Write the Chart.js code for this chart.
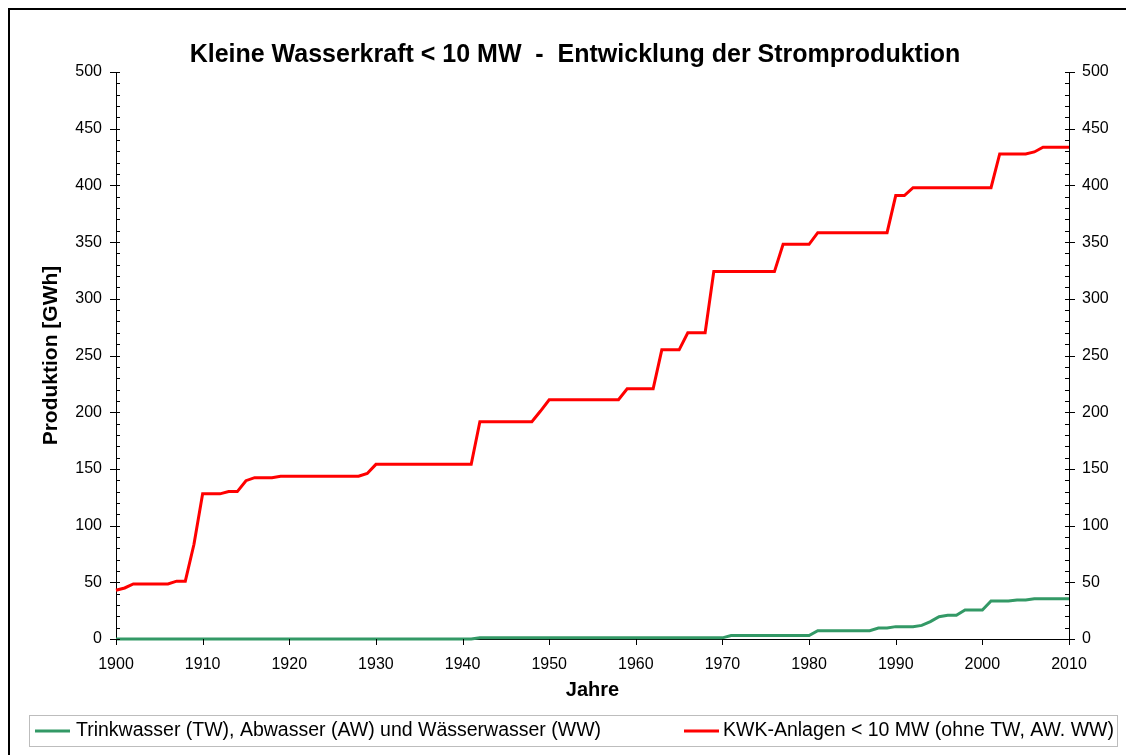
<!DOCTYPE html>
<html>
<head>
<meta charset="utf-8">
<script src="https://cdn.jsdelivr.net/npm/chart.js@4.4.1/dist/chart.umd.min.js"></script>
<style>
html,body{margin:0;padding:0;background:#fff;}
#wrap{width:1126px;height:755px;position:relative;}
</style>
</head>
<body>
<div id="wrap"><canvas id="c" width="1126" height="755"></canvas></div>
<script>
// ---- text ----
const chartTitle = 'Kleine Wasserkraft < 10 MW  -  Entwicklung der Stromproduktion';
const xAxisTitle = 'Jahre';
const yAxisTitle = 'Produktion [GWh]';
const seriesNames = [
  'Trinkwasser (TW), Abwasser (AW) und Wässerwasser (WW)',
  'KWK-Anlagen < 10 MW (ohne TW, AW. WW)'
];

// ---- data ----
const greenYears  = [1900, 1941, 1942, 1970, 1971, 1980, 1981, 1987, 1988, 1989, 1990, 1992, 1993, 1994, 1995, 1996, 1997, 1998, 2000, 2001, 2003, 2004, 2005, 2006, 2010];
const greenValues = [0,    0,    1,    1,    3,    3,    7.3,  7.3,  9.7,  9.7,  10.9, 10.9, 12,   15.3, 19.7, 21,   21,   25.6, 25.6, 33.5, 33.5, 34.4, 34.4, 35.5, 35.5];

const redYears  = [1900, 1901, 1902, 1906, 1907, 1908, 1909, 1910, 1912, 1913, 1914, 1915, 1916, 1918, 1919, 1928, 1929, 1930, 1941, 1942, 1948, 1949, 1950, 1958, 1959, 1962, 1963, 1965, 1966, 1968, 1969, 1976, 1977, 1980, 1981, 1989, 1990, 1991, 1992, 2001, 2002, 2005, 2006, 2007, 2010];
const redValues = [43,   45,   48.5, 48.5, 51,   51,   83.5, 128,  128,  130,  130,  139.6,142.3,142.3,143.5,143.5,146,  154,  154,  191.6,191.6,201,  211,  211,  220.7,220.7,255,  255,  270,  270,  324,  324,  348,  348,  358.3,358.3,391,  391,  398,  398,  427.7,427.7,429.5,433.6,433.6];

// ---- axes ----
const xTickValues = [1900, 1910, 1920, 1930, 1940, 1950, 1960, 1970, 1980, 1990, 2000, 2010];
const yTickValues = [0, 50, 100, 150, 200, 250, 300, 350, 400, 450, 500];

const colors = ['#339966', '#FF0000'];
const FONT = "'Liberation Sans', Arial, sans-serif";

const toPoints = (xs, ys) => xs.map((x, i) => ({x: x, y: ys[i]}));

const decor = {
  id: 'decor',
  beforeDraw(chart) {
    const ctx = chart.ctx;
    ctx.save();
    ctx.fillStyle = '#fff';
    ctx.fillRect(0, 0, chart.width, chart.height);
    ctx.restore();
  },
  afterDraw(chart) {
    const ctx = chart.ctx;
    const area = chart.chartArea;
    const yl = chart.scales.y, xs = chart.scales.x;
    ctx.save();
    ctx.strokeStyle = '#000';
    ctx.lineWidth = 1;
    const seg = (x1, y1, x2, y2) => { ctx.beginPath(); ctx.moveTo(x1, y1); ctx.lineTo(x2, y2); ctx.stroke(); };
    // y ticks (major + minor) on both sides
    for (let v = yl.min; v <= yl.max; v += 10) {
      const py = Math.round(yl.getPixelForValue(v)) + 0.5;
      const major = v % 50 === 0;
      const lx = Math.round(area.left), rx = Math.round(area.right);
      seg(lx - (major ? 6 : 0), py, lx + 4, py);
      seg(rx - 4, py, rx + (major ? 6 : 0), py);
    }
    // x ticks
    xTickValues.forEach(v => {
      const px = Math.round(xs.getPixelForValue(v)) + 0.5;
      seg(px, Math.round(area.bottom), px, Math.round(area.bottom) + 6);
    });
    // outer frame (cropped: only left and top visible)
    ctx.lineWidth = 2;
    seg(9, 9, 9, chart.height);
    seg(8, 9, chart.width, 9);
    // legend box
    ctx.lineWidth = 1;
    ctx.strokeStyle = '#bdbdbd';
    ctx.strokeRect(29.5, 715.5, 1088, 31);
    // legend items
    const items = [{lx: 35, tx: 76}, {lx: 684, tx: 723}];
    const ly = 731;
    ctx.font = '19.5px ' + FONT;
    ctx.textBaseline = 'middle';
    ctx.textAlign = 'left';
    chart.data.datasets.forEach((ds, i) => {
      const it = items[i];
      ctx.strokeStyle = ds.borderColor;
      ctx.lineWidth = 3;
      seg(it.lx, ly, it.lx + 35, ly);
      ctx.fillStyle = '#000';
      ctx.fillText(ds.label, it.tx, ly);
    });
    ctx.restore();
  }
};

new Chart(document.getElementById('c'), {
  type: 'line',
  data: {
    datasets: [
      {label: seriesNames[0], data: toPoints(greenYears, greenValues), borderColor: colors[0], backgroundColor: colors[0], borderWidth: 3, pointRadius: 0, tension: 0, clip: false, yAxisID: 'y'},
      {label: seriesNames[1], data: toPoints(redYears, redValues), borderColor: colors[1], backgroundColor: colors[1], borderWidth: 3, pointRadius: 0, tension: 0, clip: false, yAxisID: 'y'}
    ]
  },
  options: {
    responsive: false,
    animation: false,
    devicePixelRatio: 1,
    layout: {padding: {left: 24, right: 0, top: 0, bottom: 41}},
    plugins: {
      legend: {display: false},
      tooltip: {enabled: false},
      title: {
        display: true,
        text: chartTitle,
        color: '#000',
        font: {family: FONT, size: 25, weight: 'bold'},
        padding: {top: 40, bottom: 2}
      }
    },
    scales: {
      x: {
        type: 'linear',
        min: 1900, max: 2010,
        afterBuildTicks: s => { s.ticks = xTickValues.map(v => ({value: v})); },
        afterFit: s => { s.height = 75; },
        grid: {display: true, drawOnChartArea: false, drawTicks: false},
        border: {display: true, color: '#000', width: 1},
        ticks: {color: '#000', font: {family: FONT, size: 16}, padding: 16, maxRotation: 0, autoSkip: false, callback: v => String(v)},
        title: {display: true, text: xAxisTitle, color: '#000', font: {family: FONT, size: 20, weight: 'bold'}, padding: {top: 0, bottom: 12}}
      },
      y: {
        type: 'linear', position: 'left',
        min: 0, max: 500,
        afterBuildTicks: s => { s.ticks = yTickValues.map(v => ({value: v})); },
        afterFit: s => { s.width = 92; },
        grid: {display: true, drawOnChartArea: false, drawTicks: false},
        border: {display: true, color: '#000', width: 1},
        ticks: {color: '#000', font: {family: FONT, size: 16}, padding: 14, callback: v => String(v)},
        title: {display: true, text: yAxisTitle, color: '#000', font: {family: FONT, size: 21, weight: 'bold'}, padding: {top: 15, bottom: 0}}
      },
      y2: {
        type: 'linear', position: 'right',
        min: 0, max: 500,
        afterBuildTicks: s => { s.ticks = yTickValues.map(v => ({value: v})); },
        afterFit: s => { s.width = 57; },
        grid: {display: true, drawOnChartArea: false, drawTicks: false},
        border: {display: true, color: '#000', width: 1},
        ticks: {color: '#000', font: {family: FONT, size: 16}, padding: 13, callback: v => String(v)}
      }
    }
  },
  plugins: [decor]
});
</script>
</body>
</html>
